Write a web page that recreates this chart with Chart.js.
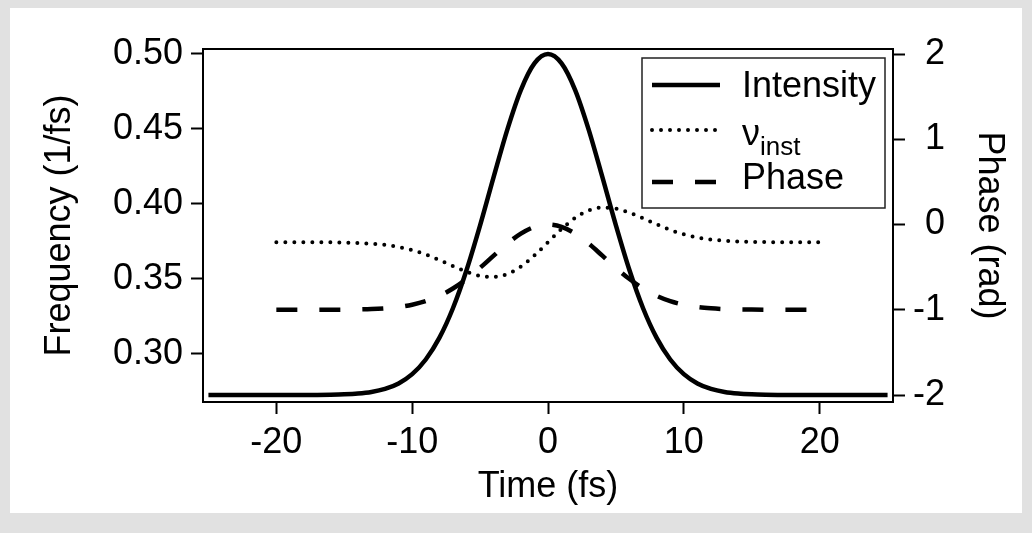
<!DOCTYPE html>
<html>
<head>
<meta charset="utf-8">
<script src="https://cdn.jsdelivr.net/npm/chart.js@4.4.1/dist/chart.umd.min.js"></script>
<style>
  html, body { margin: 0; padding: 0; background: #e1e1e1; }
  canvas { display: block; }
</style>
</head>
<body>
<canvas id="chart" width="1032" height="533"></canvas>
<script>
// pulse envelope, sampled every 1 fs
const pulseTime = [-25, -24, -23, -22, -21, -20, -19, -18, -17, -16, -15, -14, -13, -12, -11, -10,
  -9, -8, -7, -6, -5, -4, -3, -2, -1, 0, 1, 2, 3, 4, 5, 6, 7, 8, 9,
  10, 11, 12, 13, 14, 15, 16, 17, 18, 19, 20, 21, 22, 23, 24, 25];
const intensity = [0, 0, 0, 0, 0, 0, 0, 0.0001, 0.0003, 0.0008, 0.0019, 0.0042, 0.0089, 0.0179, 0.0340, 0.0612,
  0.1041, 0.1674, 0.2545, 0.3658, 0.4974, 0.6396, 0.7777, 0.8943, 0.9725, 1, 0.9725, 0.8943, 0.7777, 0.6396, 0.4974, 0.3658, 0.2545, 0.1674, 0.1041,
  0.0612, 0.0340, 0.0179, 0.0089, 0.0042, 0.0019, 0.0008, 0.0003, 0.0001, 0, 0, 0, 0, 0, 0, 0];

// instantaneous frequency (1/fs) and phase (rad)
const chirpTime = [-20, -19, -18, -17, -16, -15, -14, -13, -12, -11, -10,
  -9, -8, -7, -6, -5, -4, -3, -2, -1, 0, 1, 2, 3, 4, 5, 6, 7, 8, 9,
  10, 11, 12, 13, 14, 15, 16, 17, 18, 19, 20];
const instFreq = [0.3745, 0.3745, 0.3745, 0.3745, 0.3744, 0.3743, 0.3740, 0.3735, 0.3727, 0.3713, 0.3692,
  0.3663, 0.3626, 0.3586, 0.3548, 0.3521, 0.3514, 0.3533, 0.3583, 0.3657, 0.3745, 0.3833, 0.3907, 0.3957, 0.3976, 0.3969, 0.3942, 0.3904, 0.3864, 0.3827,
  0.3798, 0.3777, 0.3763, 0.3755, 0.3750, 0.3747, 0.3746, 0.3745, 0.3745, 0.3745, 0.3745];
const phase = [-1, -1, -1, -1, -0.999, -0.998, -0.996, -0.992, -0.983, -0.968, -0.941,
  -0.899, -0.837, -0.751, -0.640, -0.508, -0.365, -0.225, -0.107, -0.028, 0, -0.028, -0.107, -0.225, -0.365, -0.508, -0.640, -0.751, -0.837, -0.899,
  -0.941, -0.968, -0.983, -0.992, -0.996, -0.998, -0.999, -1, -1, -1, -1];

const timeTicks = [-20, -10, 0, 10, 20];
const freqTicks = [0.30, 0.35, 0.40, 0.45, 0.50];
const phaseTicks = [-2, -1, 0, 1, 2];

const FONT = 'Liberation Sans, Arial, Helvetica, sans-serif';
Chart.defaults.font.family = FONT;
Chart.defaults.font.size = 36;
Chart.defaults.color = '#000';

const toXY = (xs, ys) => xs.map((x, i) => ({ x, y: ys[i] }));

// grey page with a white sheet behind the plot
const sheet = {
  id: 'sheet',
  beforeDraw(chart) {
    const ctx = chart.ctx;
    ctx.save();
    ctx.fillStyle = '#e1e1e1';
    ctx.fillRect(0, 0, chart.width, chart.height);
    ctx.fillStyle = '#fff';
    ctx.fillRect(10, 8, 1012, 505);
    ctx.restore();
  }
};

// closed box round the plot area
const frame = {
  id: 'frame',
  afterDatasetsDraw(chart) {
    const { ctx, chartArea: a } = chart;
    ctx.save();
    ctx.strokeStyle = '#000';
    ctx.lineWidth = 2;
    ctx.strokeRect(a.left, a.top, a.right - a.left, a.bottom - a.top);
    ctx.restore();
  }
};

// boxed legend in the top right corner, label can carry a subscript
const boxLegend = {
  id: 'boxLegend',
  afterDatasetsDraw(chart) {
    const { ctx, chartArea: a } = chart;
    const w = 243, h = 150;
    const x0 = a.right - 8 - w, y0 = a.top + 9;
    const lineY = [27, 72, 124];
    const textY = [39, 87, 131];
    ctx.save();
    ctx.fillStyle = '#fff';
    ctx.fillRect(x0, y0, w, h);
    ctx.strokeStyle = '#222';
    ctx.lineWidth = 1.5;
    ctx.strokeRect(x0, y0, w, h);
    chart.data.datasets.forEach((ds, i) => {
      const y = y0 + lineY[i];
      ctx.beginPath();
      ctx.setLineDash(ds.borderDash || []);
      ctx.lineCap = ds.borderCapStyle || 'butt';
      ctx.lineWidth = ds.borderWidth;
      ctx.strokeStyle = ds.borderColor;
      ctx.moveTo(x0 + 10, y);
      ctx.lineTo(x0 + 78, y);
      ctx.stroke();
      ctx.setLineDash([]);
      ctx.fillStyle = '#000';
      ctx.textAlign = 'left';
      ctx.textBaseline = 'alphabetic';
      ctx.font = '36px ' + FONT;
      const tx = x0 + 100, ty = y0 + textY[i];
      ctx.fillText(ds.label, tx, ty);
      if (ds.labelSub) {
        const lw = ctx.measureText(ds.label).width;
        ctx.font = '26px ' + FONT;
        ctx.fillText(ds.labelSub, tx + lw, ty + 10);
      }
    });
    ctx.restore();
  }
};

new Chart(document.getElementById('chart'), {
  type: 'line',
  data: {
    datasets: [
      {
        label: 'Intensity',
        data: toXY(pulseTime, intensity),
        yAxisID: 'yInt',
        borderColor: '#000',
        borderWidth: 4.5,
        pointRadius: 0,
        cubicInterpolationMode: 'monotone'
      },
      {
        label: 'ν',
        labelSub: 'inst',
        data: toXY(chirpTime, instFreq),
        yAxisID: 'yFreq',
        borderColor: '#000',
        borderWidth: 4,
        borderDash: [0, 9],
        borderCapStyle: 'round',
        pointRadius: 0,
        cubicInterpolationMode: 'monotone'
      },
      {
        label: 'Phase',
        data: toXY(chirpTime, phase),
        yAxisID: 'yPhase',
        borderColor: '#000',
        borderWidth: 4.5,
        borderDash: [21, 22],
        pointRadius: 0,
        cubicInterpolationMode: 'monotone'
      }
    ]
  },
  options: {
    responsive: false,
    animation: false,
    events: [],
    layout: { padding: { top: 49, right: 87, left: 0, bottom: 0 } },
    plugins: {
      legend: { display: false },
      tooltip: { enabled: false }
    },
    scales: {
      x: {
        type: 'linear',
        position: 'bottom',
        min: -25.4,
        max: 25.4,
        afterBuildTicks: s => { s.ticks = timeTicks.map(v => ({ value: v })); },
        afterFit: s => { s.height = 131; },
        ticks: { padding: 7 },
        grid: { drawOnChartArea: false, tickLength: 12, tickWidth: 2, tickColor: '#000' },
        border: { display: false },
        title: { display: true, text: 'Time (fs)', padding: { top: 0, bottom: 24 } }
      },
      yFreq: {
        type: 'linear',
        position: 'left',
        min: 0.268,
        max: 0.5033,
        afterBuildTicks: s => { s.ticks = freqTicks.map(v => ({ value: v })); },
        afterFit: s => { s.width = 203; },
        ticks: { padding: 8, callback: v => v.toFixed(2) },
        grid: { drawOnChartArea: false, tickLength: 12, tickWidth: 2, tickColor: '#000' },
        border: { display: false },
        title: { display: true, text: 'Frequency (1/fs)', padding: { top: 38, bottom: 0 } }
      },
      yPhase: {
        type: 'linear',
        position: 'right',
        min: -2.082,
        max: 2.059,
        afterBuildTicks: s => { s.ticks = phaseTicks.map(v => ({ value: v })); },
        afterFit: s => { s.width = 52; },
        ticks: { padding: 6, crossAlign: 'far' },
        grid: { drawOnChartArea: false, tickLength: 12, tickWidth: 2, tickColor: '#000' },
        border: { display: false },
        title: { display: true, text: 'Phase (rad)', padding: { top: -66, bottom: 0 } }
      },
      yInt: {
        type: 'linear',
        display: false,
        min: -0.0205,
        max: 1.0147
      }
    }
  },
  plugins: [sheet, frame, boxLegend]
});
</script>
</body>
</html>
